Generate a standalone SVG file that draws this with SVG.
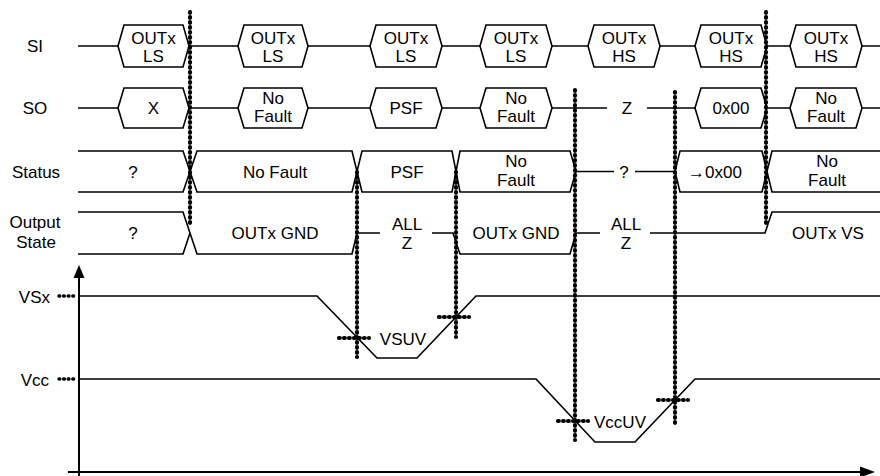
<svg xmlns="http://www.w3.org/2000/svg" width="880" height="476" viewBox="0 0 880 476">
<defs>
<style>
text{font-family:"Liberation Sans",Arial,sans-serif;font-size:17px;fill:#000;text-anchor:middle}
.end{text-anchor:end}
.w{fill:none;stroke:#000;stroke-width:1.6;stroke-linejoin:miter}
.box{fill:#fff;stroke:#000;stroke-width:1.6}
.dot{fill:none;stroke:#000;stroke-width:4.2;stroke-linecap:round;stroke-dasharray:0.8 4.2}
.tick{fill:none;stroke:#000;stroke-width:3.4;stroke-linecap:round;stroke-dasharray:0.8 3.8}
.ax{fill:none;stroke:#000;stroke-width:2}
.head{fill:#000;stroke:none}
</style>
</defs>
<rect width="880" height="476" fill="#fff"/>

<g id="row-SI">
<text x="35" y="52">SI</text>
<path class="w" d="M78,46 H880"/>
<path class="box" d="M118,46 L124,25 H183 L189,46 L183,67 H124 Z"/>
<path class="box" d="M238,46 L244,25 H302 L308,46 L302,67 H244 Z"/>
<path class="box" d="M370,46 L376,25 H436 L442,46 L436,67 H376 Z"/>
<path class="box" d="M480,46 L486,25 H546 L552,46 L546,67 H486 Z"/>
<path class="box" d="M588,46 L594,25 H654 L660,46 L654,67 H594 Z"/>
<path class="box" d="M695,46 L701,25 H761 L767,46 L761,67 H701 Z"/>
<path class="box" d="M790,46 L796,25 H856 L862,46 L856,67 H796 Z"/>
<text x="153.5" y="43.5">OUTx</text><text x="153.5" y="61.5">LS</text>
<text x="273" y="43.5">OUTx</text><text x="273" y="61.5">LS</text>
<text x="406" y="43.5">OUTx</text><text x="406" y="61.5">LS</text>
<text x="516" y="43.5">OUTx</text><text x="516" y="61.5">LS</text>
<text x="624" y="43.5">OUTx</text><text x="624" y="61.5">HS</text>
<text x="731" y="43.5">OUTx</text><text x="731" y="61.5">HS</text>
<text x="826" y="43.5">OUTx</text><text x="826" y="61.5">HS</text>
</g>

<g id="row-SO">
<text x="35" y="114">SO</text>
<path class="w" d="M78,108 H607 M647,108 H880"/>
<path class="box" d="M118,108 L124,88 H183 L189,108 L183,128 H124 Z"/>
<path class="box" d="M238,108 L244,88 H302 L308,108 L302,128 H244 Z"/>
<path class="box" d="M370,108 L376,88 H436 L442,108 L436,128 H376 Z"/>
<path class="box" d="M480,108 L486,88 H546 L552,108 L546,128 H486 Z"/>
<path class="box" d="M695,108 L701,88 H761 L767,108 L761,128 H701 Z"/>
<path class="box" d="M790,108 L796,88 H856 L862,108 L856,128 H796 Z"/>
<text x="153.5" y="114">X</text>
<text x="273" y="103.5">No</text><text x="273" y="122">Fault</text>
<text x="406" y="114">PSF</text>
<text x="516" y="103.5">No</text><text x="516" y="122">Fault</text>
<text x="627" y="113.5">Z</text>
<text x="731" y="114">0x00</text>
<text x="826" y="103.5">No</text><text x="826" y="122">Fault</text>
</g>

<g id="row-Status">
<text x="36" y="177.5">Status</text>
<path class="w" d="M78,151 H183 L197,192 H352 L362,151 H452 L460,192 H570 L576,171.5 H614"/>
<path class="w" d="M78,192 H183 L197,151 H352 L362,192 H452 L460,151 H570 L576,171.5"/>
<path class="w" d="M635,171.5 H675 L680,151 H762 L772,192 H880"/>
<path class="w" d="M675,171.5 L680,192 H762 L772,151 H880"/>
<text x="133" y="178">?</text>
<text x="275" y="177.5">No Fault</text>
<text x="407" y="177.5">PSF</text>
<text x="516" y="167">No</text><text x="516" y="185.5">Fault</text>
<text x="624" y="178">?</text>
<text x="715" y="177.5">→0x00</text>
<text x="827" y="167">No</text><text x="827" y="185.5">Fault</text>
</g>

<g id="row-OutputState">
<text x="35" y="228">Output</text><text x="36" y="248">State</text>
<path class="w" d="M78,212 H183 L197,254 H352 L357,233 H380"/>
<path class="w" d="M78,254 H183 L190,233"/>
<path class="w" d="M432,233 H453 L460,254 H570 L576,233 H600"/>
<path class="w" d="M650,233 H765 L772,212 H880"/>
<text x="133" y="239">?</text>
<text x="275" y="239">OUTx GND</text>
<text x="407" y="230">ALL</text><text x="407" y="249">Z</text>
<text x="516" y="239">OUTx GND</text>
<text x="626" y="230">ALL</text><text x="626" y="249">Z</text>
<text x="828" y="239">OUTx VS</text>
</g>

<g id="supply-graph">
<path class="ax" d="M79,476 V275"/>
<path class="head" d="M79,265 L84.5,278 L73.5,278 Z"/>
<path class="ax" d="M68,472 H862"/>
<path class="head" d="M875,472 L860,466.5 L860,477.5 Z"/>
<text class="end" x="50" y="303">VSx</text>
<text class="end" x="49" y="386">Vcc</text>
<path class="tick" d="M59,296 H77"/>
<path class="tick" d="M59,379 H77"/>
<path class="w" d="M79,296 H317 L377,358 H417 L476,296 H880"/>
<path class="w" d="M79,379 H536 L595,442 H635 L695,379 H880"/>
<text x="403" y="345">VSUV</text>
<text x="620" y="428">VccUV</text>
</g>

<g id="connectors">
<path class="dot" d="M190,12 V225"/>
<path class="dot" d="M357,172 V357"/>
<path class="dot" d="M456,172 V337"/>
<path class="dot" d="M575,90 V440"/>
<path class="dot" d="M675,92 V425"/>
<path class="dot" d="M766,12 V225"/>
<path class="dot" d="M339,338 H369"/>
<path class="dot" d="M439,317 H469"/>
<path class="dot" d="M558,421 H588"/>
<path class="dot" d="M658,400 H688"/>
</g>
</svg>
